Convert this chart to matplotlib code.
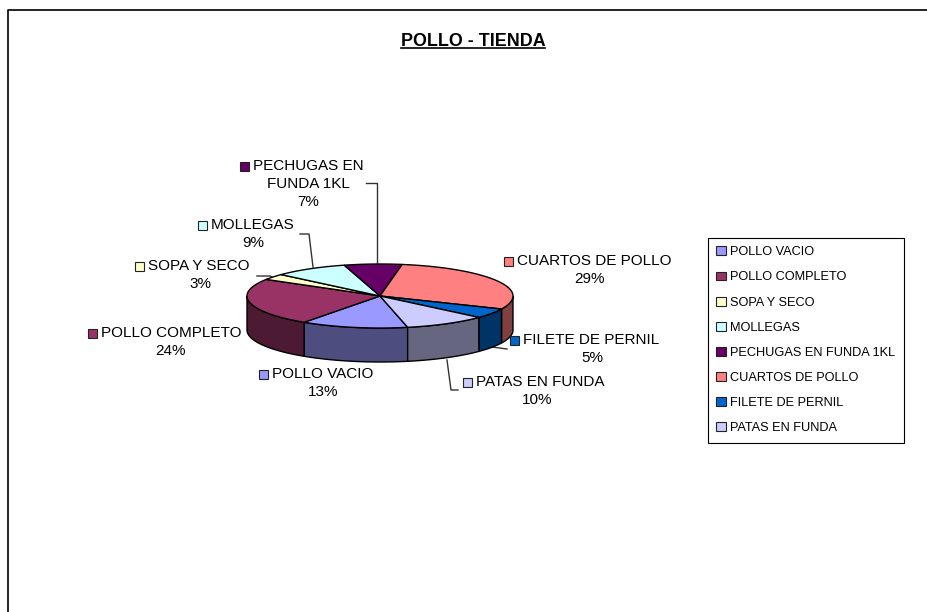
import numpy as np
import matplotlib
matplotlib.use("Agg")
import matplotlib.pyplot as plt
from matplotlib.patches import Polygon, Rectangle, Patch

plt.rcParams['font.family'] = ['Liberation Sans', 'DejaVu Sans']

# datos
categorias = ["POLLO VACIO", "POLLO COMPLETO", "SOPA Y SECO", "MOLLEGAS",
              "PECHUGAS EN FUNDA 1KL", "CUARTOS DE POLLO", "FILETE DE PERNIL", "PATAS EN FUNDA"]
valores = [13, 24, 3, 9, 7, 29, 5, 10]
colores = ["#9999FF", "#993366", "#FFFFCC", "#CCFFFF", "#660066", "#FF8080", "#0066CC", "#CCCCFF"]
oscuros = ["#4D4D80", "#4D1A33", "#808066", "#668080", "#330033", "#804040", "#003366", "#666680"]

# etiquetas: texto, x del cuadro, y de la primera linea, x del centro
etiquetas = [
    (["POLLO VACIO"], 259, 374, 323),
    (["POLLO COMPLETO"], 88, 333, 171),
    (["SOPA Y SECO"], 135, 266, 200),
    (["MOLLEGAS"], 198, 225, 253),
    (["PECHUGAS EN", "FUNDA 1KL"], 240, 166, 308),
    (["CUARTOS DE POLLO"], 504, 261, 590),
    (["FILETE DE PERNIL"], 510, 340, 592),
    (["PATAS EN FUNDA"], 463, 382, 537),
]
guias = [
    [(366, 183), (377, 183), (377, 265)],
    [(300, 234), (309, 234), (313, 267)],
    [(257, 276), (270, 276), (276, 279)],
    [(492, 347), (507, 349)],
    [(447, 360), (451, 390), (458, 390)],
]

cx, cy, rx, ry, alto = 380, 296, 133, 32, 34
inicio = -78.0

fig = plt.figure(figsize=(9.28, 6.12), dpi=100)
ax = fig.add_axes([0, 0, 1, 1])
ax.set_xlim(0, 928)
ax.set_ylim(612, 0)
ax.axis("off")

# marco
ax.plot([8.5, 8.5, 928], [612, 9.5, 9.5], color="black", lw=1.2, solid_capstyle="butt")

# titulo subrayado
tit = ax.text(473, 41, "POLLO - TIENDA", ha="center", va="center", fontsize=12.9, fontweight="bold", color="black")
fig.canvas.draw()
bb = tit.get_window_extent().transformed(ax.transData.inverted())
ax.plot([bb.x0, bb.x1], [48, 48], color="black", lw=1.2)


def arco(a, b):
    t = np.radians(np.linspace(a, b, 120))
    return cx + rx * np.cos(t), cy - ry * np.sin(t)


# angulos en sentido horario
pct = np.array(valores) / sum(valores)
fin = inicio - np.cumsum(pct) * 360
ini = np.r_[inicio, fin[:-1]]

# paredes
for a, b, c in zip(ini, fin, oscuros):
    for k in [0, 360, 720]:
        a2 = min(a + k, 360)
        b2 = max(b + k, 180)
        if a2 <= b2:
            continue
        x, y = arco(a2, b2)
        pts = np.r_[np.c_[x, y], np.c_[x[::-1], y[::-1] + alto]]
        ax.add_patch(Polygon(pts, closed=True, fc=c, ec="black", lw=1, zorder=2))

# tapa
for a, b, c in zip(ini, fin, colores):
    x, y = arco(a, b)
    pts = np.r_[[(cx, cy)], np.c_[x, y]]
    ax.add_patch(Polygon(pts, closed=True, fc=c, ec="black", lw=1, zorder=3))

for g in guias:
    g = np.array(g)
    ax.plot(g[:, 0], g[:, 1], color="#333333", lw=1, zorder=1)

# etiquetas
for (lineas, xs, ys, xc), v, c in zip(etiquetas, valores, colores):
    ax.add_patch(Rectangle((xs, ys - 4.5), 9, 9, fc=c, ec="#222222", lw=0.8, zorder=4))
    ax.text(xs + 13, ys, lineas[0], ha="left", va="center", fontsize=11, color="black")
    yy = ys
    for l in lineas[1:]:
        yy += 18
        ax.text(xc, yy, l, ha="center", va="center", fontsize=11, color="black")
    ax.text(xc, yy + 18, "%d%%" % v, ha="center", va="center", fontsize=11, color="black")

# leyenda
hs = [Patch(fc=c, ec="#222222", lw=0.8) for c in colores]
leg = ax.legend(hs, categorias, loc="upper left", bbox_to_anchor=(708 / 928, 1 - 238 / 612),
                bbox_transform=fig.transFigure, fontsize=9.2, frameon=True, fancybox=False,
                edgecolor="black", framealpha=1, borderaxespad=0, borderpad=0.65,
                labelspacing=1.03, handlelength=0.75, handleheight=0.7, handletextpad=0.35)
leg.get_frame().set_linewidth(0.8)

plt.savefig("out.png", dpi=100)
plt.close()
